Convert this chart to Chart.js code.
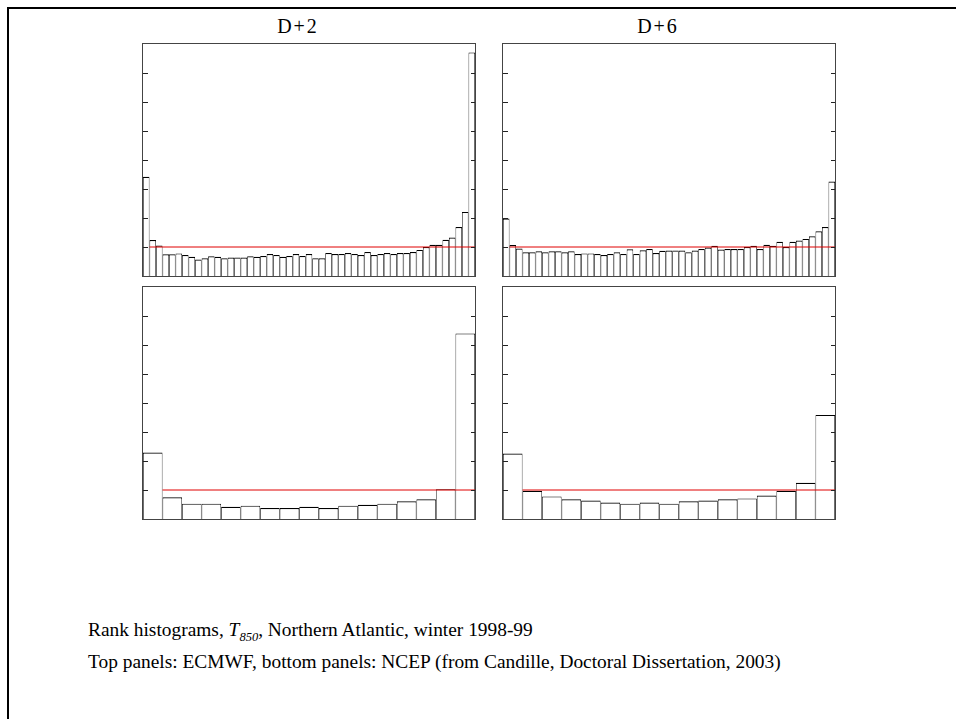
<!DOCTYPE html>
<html>
<head>
<meta charset="utf-8">
<script src="https://cdn.jsdelivr.net/npm/chart.js@4.4.0/dist/chart.umd.min.js"></script>
<style>
  html, body { margin: 0; padding: 0; background: #fff; }
  body { width: 956px; height: 719px; overflow: hidden; position: relative; font-family: "Liberation Serif", "DejaVu Serif", serif; color: #000; }
  .frame { position: absolute; left: 7px; top: 7px; width: 1000px; height: 800px; border-top: 2px solid #000; border-left: 2px solid #000; }
  canvas.panel { position: absolute; }
  .title { position: absolute; width: 120px; text-align: center; font-size: 20px; line-height: 1; top: 16px; letter-spacing: 2px; }
  .caption { position: absolute; left: 88px; font-size: 19.4px; line-height: 1; white-space: nowrap; }
  .caption i sub { font-size: 12.5px; }
</style>
</head>
<body>
<div class="frame"></div>
<div class="title" style="left:238px">D+2</div>
<div class="title" style="left:598px">D+6</div>

<canvas class="panel" id="c1" width="336" height="236" style="left:141px;top:42px"></canvas>
<canvas class="panel" id="c2" width="336" height="236" style="left:501px;top:42px"></canvas>
<canvas class="panel" id="c3" width="336" height="236" style="left:141px;top:285px"></canvas>
<canvas class="panel" id="c4" width="336" height="236" style="left:501px;top:285px"></canvas>

<div class="caption" style="top:620px">Rank histograms, <i>T<sub>850</sub></i>, Northern Atlantic, winter 1998-99</div>
<div class="caption" style="top:652px">Top panels: ECMWF, bottom panels: NCEP (from Candille, Doctoral Dissertation, 2003)</div>

<script>
// Rank histogram frequencies, in units of the expected (flat) frequency 1/N
const ecmwfD2 = [3.42,1.24,1.05,0.75,0.75,0.78,0.72,0.66,0.57,0.61,
                 0.68,0.66,0.61,0.64,0.64,0.64,0.68,0.66,0.69,0.76,
                 0.72,0.66,0.69,0.76,0.69,0.76,0.61,0.61,0.79,0.76,
                 0.76,0.79,0.76,0.72,0.83,0.72,0.76,0.79,0.76,0.79,
                 0.79,0.83,0.90,1.00,1.08,1.08,1.25,1.33,1.69,2.21,
                 7.71];
const ecmwfD6 = [1.98,1.07,0.95,0.82,0.82,0.85,0.82,0.85,0.85,0.82,
                 0.85,0.76,0.78,0.78,0.76,0.72,0.76,0.82,0.76,0.92,
                 0.76,0.89,0.93,0.79,0.87,0.88,0.88,0.88,0.82,0.88,
                 0.93,0.98,1.04,0.91,0.93,0.93,0.93,1.00,1.04,0.93,
                 1.08,1.04,1.18,1.00,1.18,1.22,1.28,1.37,1.54,1.69,
                 3.26];
const ncepD2 = [2.29,0.75,0.53,0.53,0.42,0.46,0.38,0.38,0.42,0.38,0.46,0.49,0.53,0.61,0.68,1.03,6.40];
const ncepD6 = [2.26,0.97,0.78,0.68,0.64,0.57,0.53,0.57,0.53,0.61,0.64,0.68,0.71,0.81,0.97,1.25,3.59];
const yTicks = [1,2,3,4,5,6,7];
const yMax = 8;
const expected = 1;

const framePlugin = {
  id: 'frameTicks',
  afterDatasetsDraw(chart) {
    const ctx = chart.ctx;
    const a = chart.chartArea;
    const ys = chart.scales.y;
    ctx.save();
    ctx.strokeStyle = '#222';
    ctx.lineWidth = 1;
    ctx.beginPath();
    yTicks.forEach(v => {
      const py = Math.round(ys.getPixelForValue(v)) + 0.5;
      ctx.moveTo(a.left, py); ctx.lineTo(a.left + 5, py);
      ctx.moveTo(a.right - 4, py); ctx.lineTo(a.right, py);
    });
    ctx.stroke();
    ctx.strokeStyle = '#444';
    ctx.strokeRect(Math.round(a.left) - 0.5, Math.round(a.top) - 0.5,
                   Math.round(a.right - a.left) + 1, Math.round(a.bottom - a.top) + 1);
    ctx.restore();
  }
};

function makeChart(id, values) {
  const n = values.length;
  const bars = values.map((v, i) => ({ x: i + 0.5, y: v }));
  return new Chart(document.getElementById(id), {
    type: 'bar',
    data: {
      datasets: [
        {
          type: 'line',
          data: [{ x: 1, y: expected }, { x: n, y: expected }],
          borderColor: '#e00000',
          borderWidth: 1,
          pointRadius: 0,
          tension: 0,
          order: 0
        },
        {
          type: 'bar',
          data: bars,
          backgroundColor: '#ffffff',
          borderColor: '#000000',
          borderWidth: { top: 1.2, left: 0.75, right: 0.75, bottom: 0 },
          borderSkipped: 'bottom',
          categoryPercentage: 1,
          barPercentage: 1,
          inflateAmount: 0,
          order: 1
        }
      ]
    },
    options: {
      responsive: false,
      animation: false,
      devicePixelRatio: 1,
      layout: { padding: 2 },
      plugins: { legend: { display: false }, tooltip: { enabled: false } },
      events: [],
      scales: {
        x: { type: 'linear', min: 0, max: n, offset: false, display: false },
        y: { type: 'linear', min: 0, max: yMax, display: false }
      }
    },
    plugins: [framePlugin]
  });
}

makeChart('c1', ecmwfD2);
makeChart('c2', ecmwfD6);
makeChart('c3', ncepD2);
makeChart('c4', ncepD6);
</script>
</body>
</html>
